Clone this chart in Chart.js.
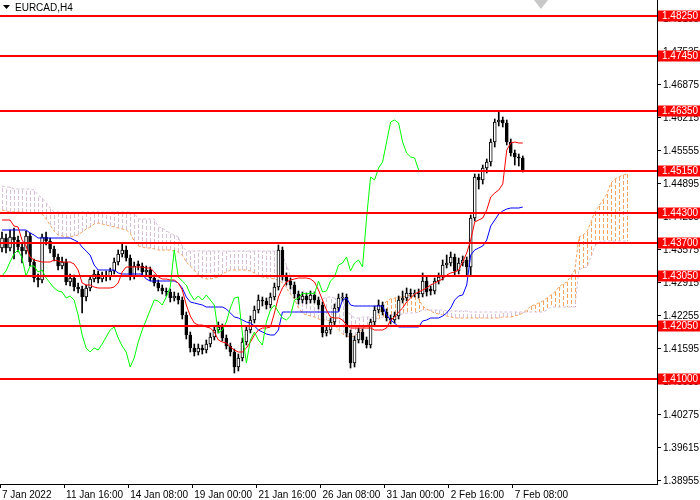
<!DOCTYPE html>
<html>
<head>
<meta charset="utf-8">
<title>EURCAD,H4</title>
<script src="https://cdn.jsdelivr.net/npm/chart.js"></script>
<style>
  html, body { margin: 0; padding: 0; background: #fff; }
  canvas { display: block; }
</style>
</head>
<body>
<canvas id="chart" width="700" height="500"></canvas>
<script>
// EURCAD H4 candles, bar 0 = 7 Jan 2022 00:00
const opens = [
  1.4361,1.4381,1.4361,1.4383,1.4377,1.4363,1.4355,1.4385,1.4333,1.4301,
  1.4297,1.4383,1.4375,1.4359,1.4343,1.4325,1.4333,1.4293,1.4301,1.4283,
  1.4279,1.4263,1.4281,1.4299,1.4309,1.4299,1.4307,1.4305,1.4315,1.4333,
  1.4349,1.4357,1.4341,1.4305,1.4329,1.4325,1.4313,1.4317,1.4301,1.4291,
  1.4281,1.4275,1.4273,1.4261,1.4265,1.4257,1.4227,1.4187,1.4161,1.4153,
  1.4161,1.4157,1.4169,1.4183,1.4197,1.4203,1.4181,1.4165,1.4153,1.4123,
  1.4141,1.4173,1.4197,1.4217,1.4237,1.4257,1.4255,1.4247,1.4263,1.4283,
  1.4357,1.4303,1.4295,1.4287,1.4269,1.4257,1.4265,1.4257,1.4267,1.4257,
  1.4247,1.4191,1.4197,1.4213,1.4241,1.4261,1.4263,1.4191,1.4131,1.4177,
  1.4193,1.4177,1.4167,1.4213,1.4237,1.4247,1.4233,1.4221,1.4217,1.4225,
  1.4257,1.4261,1.4271,1.4269,1.4271,1.4269,1.4295,1.4279,1.4275,1.4295,
  1.4303,1.4327,1.4331,1.4343,1.4315,1.4331,1.4337,1.4323,1.4421,1.4503,
  1.4497,1.4521,1.4533,1.4573,1.4613,1.4617,1.4611,1.4573,1.4551,1.4543,
  1.4541
];
const highs = [
  1.4393,1.4389,1.4397,1.4401,1.4385,1.4371,1.4395,1.4391,1.4339,1.4309,
  1.4389,1.4393,1.4381,1.4365,1.4349,1.4343,1.4339,1.4309,1.4307,1.4291,
  1.4285,1.4287,1.4305,1.4317,1.4315,1.4313,1.4315,1.4321,1.4341,1.4357,
  1.4371,1.4365,1.4347,1.4333,1.4335,1.4331,1.4325,1.4323,1.4307,1.4297,
  1.4287,1.4281,1.4279,1.4273,1.4271,1.4263,1.4233,1.4193,1.4169,1.4169,
  1.4167,1.4177,1.4191,1.4205,1.4213,1.4209,1.4187,1.4171,1.4159,1.4149,
  1.4181,1.4205,1.4225,1.4245,1.4267,1.4263,1.4261,1.4271,1.4291,1.4367,
  1.4363,1.4311,1.4301,1.4293,1.4275,1.4273,1.4271,1.4275,1.4273,1.4263,
  1.4253,1.4205,1.4221,1.4249,1.4269,1.4271,1.4269,1.4197,1.4185,1.4201,
  1.4199,1.4183,1.4219,1.4245,1.4257,1.4253,1.4239,1.4227,1.4233,1.4265,
  1.4275,1.4281,1.4279,1.4277,1.4279,1.4311,1.4303,1.4285,1.4301,1.4311,
  1.4337,1.4347,1.4353,1.4349,1.4341,1.4345,1.4343,1.4427,1.4509,1.4509,
  1.4527,1.4539,1.4579,1.4619,1.4633,1.4623,1.4617,1.4579,1.4557,1.4549,
  1.4545
];
const lows = [
  1.4353,1.4351,1.4355,1.4339,1.4353,1.4331,1.4349,1.4325,1.4293,1.4283,
  1.4291,1.4367,1.4351,1.4335,1.4317,1.4319,1.4287,1.4285,1.4275,1.4271,
  1.4231,1.4255,1.4275,1.4293,1.4291,1.4293,1.4295,1.4297,1.4309,1.4327,
  1.4343,1.4335,1.4297,1.4299,1.4317,1.4307,1.4305,1.4295,1.4285,1.4275,
  1.4269,1.4265,1.4253,1.4255,1.4249,1.4219,1.4179,1.4153,1.4145,1.4147,
  1.4149,1.4151,1.4163,1.4177,1.4191,1.4175,1.4159,1.4145,1.4111,1.4115,
  1.4135,1.4167,1.4191,1.4211,1.4231,1.4245,1.4239,1.4241,1.4257,1.4277,
  1.4297,1.4287,1.4279,1.4261,1.4249,1.4251,1.4249,1.4251,1.4251,1.4239,
  1.4183,1.4185,1.4189,1.4207,1.4235,1.4255,1.4183,1.4121,1.4123,1.4171,
  1.4171,1.4161,1.4161,1.4207,1.4231,1.4227,1.4215,1.4209,1.4211,1.4219,
  1.4251,1.4255,1.4263,1.4263,1.4261,1.4263,1.4265,1.4267,1.4269,1.4289,
  1.4297,1.4321,1.4325,1.4307,1.4309,1.4325,1.4305,1.4305,1.4415,1.4479,
  1.4489,1.4511,1.4525,1.4563,1.4605,1.4603,1.4567,1.4545,1.4527,1.4525,
  1.4513
];
const closes = [
  1.4381,1.4361,1.4383,1.4377,1.4363,1.4355,1.4385,1.4333,1.4301,1.4297,
  1.4383,1.4375,1.4359,1.4343,1.4325,1.4333,1.4293,1.4301,1.4283,1.4279,
  1.4263,1.4281,1.4299,1.4309,1.4299,1.4307,1.4305,1.4315,1.4333,1.4349,
  1.4357,1.4341,1.4305,1.4325,1.4325,1.4313,1.4317,1.4301,1.4291,1.4281,
  1.4275,1.4273,1.4261,1.4265,1.4257,1.4227,1.4187,1.4161,1.4153,1.4161,
  1.4157,1.4169,1.4183,1.4197,1.4203,1.4181,1.4165,1.4153,1.4123,1.4141,
  1.4173,1.4197,1.4217,1.4237,1.4257,1.4255,1.4247,1.4263,1.4283,1.4357,
  1.4303,1.4295,1.4287,1.4269,1.4257,1.4265,1.4257,1.4267,1.4257,1.4247,
  1.4191,1.4197,1.4213,1.4241,1.4261,1.4263,1.4191,1.4131,1.4177,1.4193,
  1.4177,1.4167,1.4213,1.4237,1.4247,1.4233,1.4221,1.4217,1.4225,1.4257,
  1.4261,1.4271,1.4269,1.4271,1.4269,1.4295,1.4273,1.4275,1.4295,1.4303,
  1.4327,1.4331,1.4343,1.4315,1.4331,1.4337,1.4323,1.4421,1.4503,1.4497,
  1.4521,1.4533,1.4573,1.4613,1.4617,1.4611,1.4573,1.4551,1.4543,1.4541,
  1.4517
];

// Ichimoku lines
const tenkan = [
  1.4417,1.4417,1.4417,1.4405,1.4403,1.4377,1.4365,1.4343,1.4337,1.4335,
  1.4333,1.4333,1.4333,1.4337,1.4335,1.4333,1.4333,1.4333,1.4329,1.4317,
  1.4291,1.4287,1.4287,1.4283,1.4281,1.4281,1.4281,1.4281,1.4283,1.4291,
  1.4313,1.4323,1.4323,1.4323,1.4323,1.4323,1.4321,1.4321,1.4313,1.4303,
  1.4299,1.4299,1.4297,1.4297,1.4291,1.4277,1.4247,1.4225,1.4211,1.4207,
  1.4207,1.4203,1.4201,1.4193,1.4177,1.4173,1.4171,1.4163,1.4157,1.4153,
  1.4153,1.4161,1.4173,1.4187,1.4197,1.4201,1.4201,1.4203,1.4231,1.4263,
  1.4281,1.4293,1.4297,1.4299,1.4301,1.4301,1.4301,1.4299,1.4293,1.4277,
  1.4257,1.4237,1.4223,1.4221,1.4221,1.4217,1.4207,1.4201,1.4201,1.4201,
  1.4201,1.4201,1.4201,1.4197,1.4197,1.4197,1.4201,1.4217,1.4223,1.4233,
  1.4241,1.4253,1.4261,1.4269,1.4273,1.4277,1.4281,1.4287,1.4291,1.4295,
  1.4299,1.4307,1.4311,1.4313,1.4317,1.4333,1.4351,1.4377,1.4413,1.4417,
  1.4421,1.4437,1.4463,1.4471,1.4477,1.4489,1.4557,1.4571,1.4573,1.4571,
  1.4571
];
const kijun = [
  1.4397,1.4397,1.4397,1.4397,1.4397,1.4397,1.4397,1.4391,1.4387,1.4381,
  1.4381,1.4381,1.4381,1.4381,1.4381,1.4381,1.4381,1.4381,1.4377,1.4373,
  1.4363,1.4355,1.4347,1.4327,1.4317,1.4317,1.4317,1.4317,1.4317,1.4311,
  1.4309,1.4309,1.4309,1.4309,1.4309,1.4309,1.4299,1.4295,1.4295,1.4295,
  1.4295,1.4295,1.4295,1.4295,1.4291,1.4281,1.4263,1.4253,1.4251,1.4249,
  1.4247,1.4243,1.4243,1.4243,1.4243,1.4243,1.4239,1.4231,1.4223,1.4221,
  1.4217,1.4213,1.4211,1.4205,1.4197,1.4193,1.4189,1.4187,1.4187,1.4197,
  1.4233,1.4233,1.4233,1.4233,1.4233,1.4233,1.4233,1.4233,1.4233,1.4233,
  1.4233,1.4233,1.4233,1.4233,1.4233,1.4257,1.4261,1.4247,1.4245,1.4245,
  1.4245,1.4245,1.4245,1.4245,1.4245,1.4245,1.4227,1.4217,1.4211,1.4203,
  1.4203,1.4203,1.4203,1.4203,1.4203,1.4215,1.4217,1.4221,1.4221,1.4221,
  1.4225,1.4231,1.4241,1.4257,1.4265,1.4267,1.4287,1.4347,1.4357,1.4361,
  1.4365,1.4377,1.4405,1.4417,1.4429,1.4435,1.4439,1.4441,1.4441,1.4441,
  1.4443
];
// cloud, already shifted 26 bars forward (157 values)
const spanA = [
  1.4437,1.4435,1.4433,1.4433,1.4433,1.4433,1.4431,1.4431,1.4431,1.4431,
  1.4429,1.4419,1.4407,1.4395,1.4387,1.4385,1.4383,1.4383,1.4385,1.4387,
  1.4393,1.4399,1.4403,1.4409,1.4411,1.4409,1.4407,1.4405,1.4403,1.4401,
  1.4399,1.4397,1.4391,1.4375,1.4365,1.4363,1.4361,1.4361,1.4359,1.4357,
  1.4357,1.4357,1.4357,1.4355,1.4353,1.4347,1.4333,1.4325,1.4317,1.4307,
  1.4301,1.4299,1.4299,1.4301,1.4303,1.4309,1.4313,1.4317,1.4317,1.4317,
  1.4317,1.4317,1.4315,1.4311,1.4305,1.4303,1.4301,1.4301,1.4299,1.4297,
  1.4291,1.4281,1.4269,1.4259,1.4241,1.4231,1.4227,1.4225,1.4223,1.4219,
  1.4217,1.4217,1.4215,1.4209,1.4197,1.4189,1.4185,1.4183,1.4185,1.4191,
  1.4201,1.4205,1.4211,1.4217,1.4227,1.4243,1.4255,1.4259,1.4261,1.4263,
  1.4263,1.4265,1.4267,1.4265,1.4259,1.4245,1.4239,1.4235,1.4231,1.4229,
  1.4227,1.4225,1.4223,1.4221,1.4221,1.4221,1.4221,1.4221,1.4221,1.4221,
  1.4221,1.4221,1.4221,1.4221,1.4221,1.4223,1.4223,1.4223,1.4225,1.4227,
  1.4231,1.4237,1.4245,1.4247,1.4251,1.4255,1.4261,1.4267,1.4273,1.4283,
  1.4289,1.4293,1.4305,1.4317,1.4383,1.4387,1.4393,1.4413,1.4433,1.4445,
  1.4457,1.4469,1.4491,1.4499,1.4503,1.4507,1.4509
];
const spanB = [
  1.4485,1.4483,1.4483,1.4479,1.4479,1.4479,1.4479,1.4479,1.4477,1.4467,
  1.4461,1.4451,1.4441,1.4433,1.4433,1.4433,1.4433,1.4433,1.4433,1.4433,
  1.4433,1.4433,1.4433,1.4433,1.4433,1.4433,1.4433,1.4433,1.4433,1.4433,
  1.4433,1.4433,1.4433,1.4431,1.4419,1.4419,1.4419,1.4419,1.4419,1.4403,
  1.4401,1.4395,1.4391,1.4387,1.4383,1.4365,1.4355,1.4355,1.4355,1.4355,
  1.4355,1.4355,1.4355,1.4355,1.4355,1.4355,1.4355,1.4355,1.4355,1.4355,
  1.4355,1.4355,1.4355,1.4355,1.4355,1.4355,1.4355,1.4355,1.4355,1.4355,
  1.4345,1.4327,1.4305,1.4261,1.4261,1.4261,1.4259,1.4259,1.4257,1.4257,
  1.4259,1.4263,1.4263,1.4261,1.4261,1.4257,1.4237,1.4227,1.4221,1.4221,
  1.4223,1.4223,1.4223,1.4221,1.4219,1.4223,1.4225,1.4227,1.4227,1.4229,
  1.4229,1.4231,1.4231,1.4231,1.4233,1.4237,1.4237,1.4237,1.4237,1.4237,
  1.4237,1.4235,1.4235,1.4235,1.4235,1.4235,1.4235,1.4233,1.4233,1.4233,
  1.4233,1.4233,1.4233,1.4233,1.4233,1.4233,1.4233,1.4233,1.4233,1.4233,
  1.4233,1.4233,1.4233,1.4233,1.4233,1.4233,1.4237,1.4243,1.4243,1.4243,
  1.4243,1.4243,1.4243,1.4243,1.4317,1.4321,1.4323,1.4343,1.4365,1.4373,
  1.4375,1.4375,1.4375,1.4375,1.4375,1.4375,1.4375
];
const chikouShift = 26;

const levels = [1.4825, 1.4745, 1.4635, 1.4515, 1.4430, 1.4370, 1.4305, 1.4205, 1.4100];
const yTicks = [1.38955, 1.39615, 1.40275, 1.40935, 1.41595, 1.42255, 1.42915, 1.43575,
                1.44235, 1.44895, 1.45555, 1.46215, 1.46875, 1.47535, 1.48195];
const tickLabels = ['7 Jan 2022', '11 Jan 16:00', '14 Jan 08:00', '19 Jan 00:00', '21 Jan 16:00',
                    '26 Jan 08:00', '31 Jan 00:00', '2 Feb 16:00', '7 Feb 08:00'];
const tickStep = 16;
const barCount = 164;
const yMin = 1.3889, yMax = 1.4857;

const FONT = 'Liberation Sans';
const sandy = '#f4a460';
const thistle = '#d8bfd8';

const xLabels = [];
for (let i = 0; i < barCount; i++) {
  xLabels.push(i % tickStep === 0 && tickLabels[i / tickStep] ? tickLabels[i / tickStep] : '');
}
const chikou = closes.slice(chikouShift);

const overlay = {
  id: 'overlay',
  beforeDatasetsDraw(chart) {
    const { ctx, chartArea, scales: { x, y } } = chart;
    ctx.save();
    ctx.beginPath();
    ctx.rect(chartArea.left, chartArea.top, chartArea.width, chartArea.height);
    ctx.clip();
    ctx.lineWidth = 1;
    ctx.setLineDash([4, 2]);
    for (let k = 0; k < spanA.length; k++) {
      const px = Math.round(x.getPixelForValue(k)) + 0.5;
      ctx.strokeStyle = spanA[k] >= spanB[k] ? sandy : thistle;
      ctx.beginPath();
      ctx.moveTo(px, Math.round(y.getPixelForValue(spanA[k])));
      ctx.lineTo(px, Math.round(y.getPixelForValue(spanB[k])));
      ctx.stroke();
    }
    ctx.restore();
  },
  afterDatasetsDraw(chart) {
    const { ctx, chartArea, scales: { y } } = chart;
    ctx.save();
    ctx.strokeStyle = '#ff0000';
    ctx.lineWidth = 2;
    levels.forEach(v => {
      const py = Math.round(y.getPixelForValue(v));
      ctx.beginPath();
      ctx.moveTo(chartArea.left, py);
      ctx.lineTo(chartArea.right, py);
      ctx.stroke();
    });
    ctx.restore();
  },
  afterDraw(chart) {
    const { ctx, chartArea, scales: { y } } = chart;
    ctx.save();
    ctx.font = '10px "' + FONT + '"';
    ctx.textBaseline = 'middle';
    levels.forEach(v => {
      const py = Math.round(y.getPixelForValue(v));
      ctx.fillStyle = '#ff0000';
      ctx.fillRect(chartArea.right + 1, py - 5.5, 700 - chartArea.right - 1, 11);
      ctx.fillStyle = '#ffffff';
      ctx.fillText(v.toFixed(5), chartArea.right + 5, py + 0.5);
    });
    // symbol title
    ctx.fillStyle = '#000';
    ctx.beginPath();
    ctx.moveTo(3, 5); ctx.lineTo(10, 5); ctx.lineTo(6.5, 9); ctx.closePath();
    ctx.fill();
    ctx.textBaseline = 'alphabetic';
    ctx.fillText('EURCAD,H4', 15, 11);
    // chart shift marker
    ctx.fillStyle = '#c8c8c8';
    ctx.beginPath();
    ctx.moveTo(534, 0); ctx.lineTo(548, 0); ctx.lineTo(541, 9); ctx.closePath();
    ctx.fill();
    ctx.restore();
  }
};

new Chart(document.getElementById('chart'), {
  type: 'bar',
  data: {
    labels: xLabels,
    datasets: [
      {
        label: 'Chikou', type: 'line', data: chikou, borderColor: '#00ff00', borderWidth: 1,
        pointRadius: 0, tension: 0, order: 1
      },
      {
        label: 'Tenkan', type: 'line', data: tenkan, borderColor: '#ff0000', borderWidth: 1,
        pointRadius: 0, tension: 0, order: 2
      },
      {
        label: 'Kijun', type: 'line', data: kijun, borderColor: '#0000ff', borderWidth: 1,
        pointRadius: 0, tension: 0, order: 3
      },
      {
        label: 'Body', type: 'bar', data: opens.map((o, i) => [o, closes[i]]),
        backgroundColor: opens.map((o, i) => closes[i] >= o ? '#ffffff' : '#000000'),
        borderColor: '#000', borderWidth: 1, borderSkipped: false,
        barThickness: 3, grouped: false, order: 4
      },
      {
        label: 'Wick', type: 'bar', data: lows.map((l, i) => [l, highs[i]]),
        backgroundColor: '#000', barThickness: 1, grouped: false, order: 5
      },
      {
        label: 'Span A', type: 'line', data: spanA, borderColor: sandy, borderWidth: 1,
        borderDash: [3, 2], pointRadius: 0, tension: 0, order: 6
      },
      {
        label: 'Span B', type: 'line', data: spanB, borderColor: thistle, borderWidth: 1,
        borderDash: [3, 2], pointRadius: 0, tension: 0, order: 7
      }
    ]
  },
  options: {
    responsive: false,
    animation: false,
    layout: { padding: 0 },
    plugins: { legend: { display: false }, tooltip: { enabled: false } },
    scales: {
      x: {
        type: 'category',
        offset: true,
        grid: {
          offset: true, drawOnChartArea: false, drawTicks: true, tickLength: 4,
          color: c => (xLabels[c.index] ? '#000' : 'rgba(0,0,0,0)')
        },
        border: { color: '#000' },
        ticks: {
          autoSkip: false, maxRotation: 0, minRotation: 0, align: 'start', padding: 1,
          color: '#000', font: { family: FONT, size: 10 }
        },
        afterFit(s) { s.height = 16; s.paddingLeft = 0; s.paddingRight = 0; }
      },
      y: {
        type: 'linear',
        position: 'right',
        min: yMin,
        max: yMax,
        afterBuildTicks(s) { s.ticks = yTicks.map(v => ({ value: v })); },
        grid: { drawOnChartArea: false, tickLength: 4, color: '#000' },
        border: { color: '#000' },
        ticks: {
          padding: 2, color: '#000', font: { family: FONT, size: 10 },
          callback: v => v.toFixed(5)
        },
        afterFit(s) { s.width = 43; s.paddingTop = 0; s.paddingBottom = 0; }
      }
    }
  },
  plugins: [overlay]
});
</script>
</body>
</html>
